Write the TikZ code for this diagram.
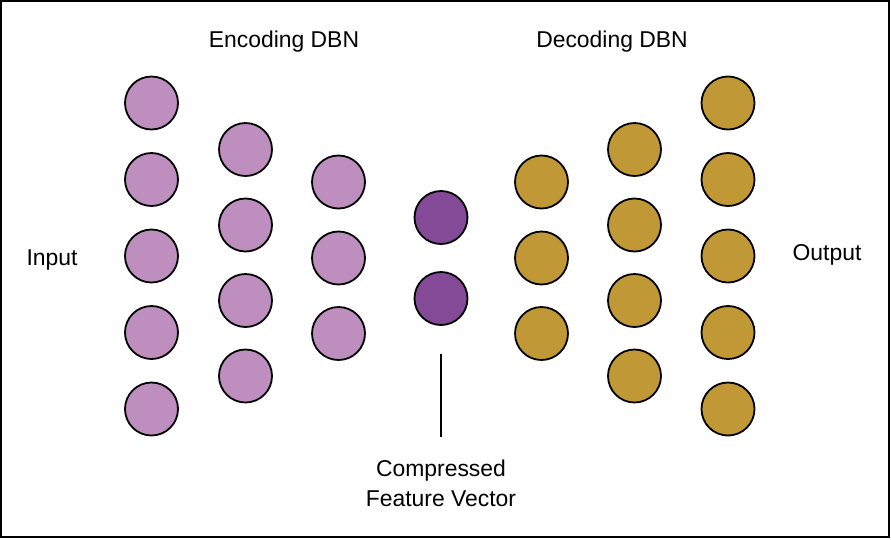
\documentclass[tikz,border=0pt]{standalone}
\usepackage{fontspec}
\setmainfont{Liberation Sans}
\usepackage{xcolor}
\usepackage{tikz}
\usetikzlibrary{positioning}
\definecolor{encpurple}{RGB}{190,142,191}
\definecolor{codepurple}{RGB}{132,74,152}
\definecolor{decgold}{RGB}{192,153,54}

\tikzset{
  unit/.style={circle, draw=black, line width=1.8pt, minimum size=53pt, inner sep=0pt},
  label text/.style={font=\fontsize{22.9}{29.3}\selectfont, anchor=base, inner sep=0pt}
}

\begin{document}
\begin{tikzpicture}[x=1pt, y=-1pt]
  \useasboundingbox (0,0) rectangle (891,539);
  \draw[line width=2pt] (1,1) rectangle (889,537);
  % Encoding DBN
  \foreach \y [count=\k] in {103,179.5,256,332.5,409}
    \node[unit, fill=encpurple] (in\k) at (151.5,\y) {};
  \foreach \y [count=\k] in {149.5,225,300.5,376}
    \node[unit, fill=encpurple] (enA\k) at (245.5,\y) {};
  \foreach \y [count=\k] in {182,258,333.5}
    \node[unit, fill=encpurple] (enB\k) at (338.5,\y) {};
  % Compressed feature vector
  \foreach \y [count=\k] in {217.5,298.5}
    \node[unit, fill=codepurple] (code\k) at (441,\y) {};
  % Decoding DBN
  \foreach \y [count=\k] in {182,258,333.5}
    \node[unit, fill=decgold] (deA\k) at (541.5,\y) {};
  \foreach \y [count=\k] in {149.5,225,300.5,376}
    \node[unit, fill=decgold] (deB\k) at (634.5,\y) {};
  \foreach \y [count=\k] in {103,179.5,256,332.5,409}
    \node[unit, fill=decgold] (out\k) at (728,\y) {};
  % Labels
  \node[label text] (enclabel) at (284,47.7) {Encoding DBN};
  \node[label text] (declabel) at (612,47.7) {Decoding DBN};
  \node[label text] (inlabel) at (52,265.7) {Input};
  \node[label text] (outlabel) at (827,260) {Output};
  \node[label text] (cfvA) at (441,476.7) {Compressed};
  \node[label text] (cfvB) at (441,506) {Feature Vector};
  \coordinate (tickTop) at (441,354);
  \coordinate (tickBot) at (441,437);
  \draw[line width=1.5pt] (tickTop) -- (tickBot);
\end{tikzpicture}
\end{document}
